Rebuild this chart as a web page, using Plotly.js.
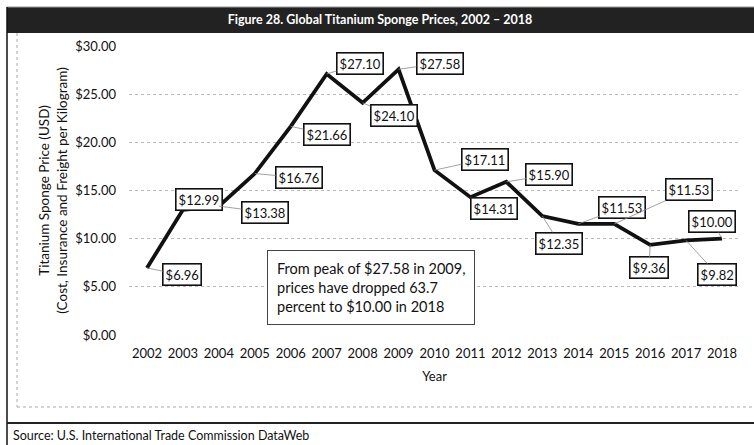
<!DOCTYPE html>
<html>
<head>
<meta charset="utf-8">
<script src="https://cdn.plot.ly/plotly-3.0.1.min.js"></script>
<style>html,body{margin:0;padding:0;background:#fff;}#chart{width:754px;height:445px;}</style>
</head>
<body>
<div id="chart"></div>
<script>
// ---- Data ----
const years = [2002, 2003, 2004, 2005, 2006, 2007, 2008, 2009, 2010, 2011, 2012, 2013, 2014, 2015, 2016, 2017, 2018];
const prices = [6.96, 12.99, 13.38, 16.76, 21.66, 27.10, 24.10, 27.58, 17.11, 14.31, 15.90, 12.35, 11.53, 11.53, 9.36, 9.82, 10.00];
const yTickVals = [0, 5, 10, 15, 20, 25, 30];
const yTickText = ['$0.00', '$5.00', '$10.00', '$15.00', '$20.00', '$25.00', '$30.00'];
const chartTitle = 'Figure 28. Global Titanium Sponge Prices, 2002 \u2013 2018';
const yTitle = 'Titanium Sponge Price (USD)<br>(Cost, Insurance and Freight per Kilogram)';
const xTitle = 'Year';
const noteText = 'From peak of $27.58 in 2009,<br>prices have dropped 63.7<br>percent to $10.00 in 2018';
const sourceText = 'Source: U.S. International Trade Commission DataWeb';

// ---- Label offsets (pixels, layout only) ----
const labelOffsets = [
  [35, 7], [16, -10], [46, 6], [44, 4], [36, 8], [33, -10], [31, 13], [41, -6],
  [50, -11], [24, 11], [43, -7], [17, 27], [44, -16], [75, -34], [-1, 23], [31, 34], [-10, -17]
];

const L = 129, R = 740, T = 46, B = 335, W = 754, H = 445;
const px = x => (x - L) / (R - L);
const py = y => (B - y) / (B - T);
const FONT = 'Lato, "Open Sans", sans-serif';

const annotations = years.map((yr, i) => ({
  x: yr, y: prices[i], xref: 'x', yref: 'y',
  text: '$' + prices[i].toFixed(2),
  showarrow: true, arrowhead: 0, arrowwidth: 0.8, arrowcolor: '#8a8a8a', standoff: 0,
  ax: labelOffsets[i][0], ay: labelOffsets[i][1],
  bgcolor: '#ffffff', bordercolor: '#111111', borderwidth: 1.6, borderpad: 2,
  font: {family: FONT, size: 13, color: '#111'}
}));

annotations.push({
  x: px(371), y: py(287), xref: 'paper', yref: 'paper', xanchor: 'center', yanchor: 'middle',
  text: noteText, showarrow: false, align: 'left',
  bgcolor: '#ffffff', bordercolor: '#444', borderwidth: 1, borderpad: 9,
  font: {family: FONT, size: 14.5, color: '#111'}
});
annotations.push({
  x: px(11), y: py(435), xref: 'paper', yref: 'paper', xanchor: 'left', yanchor: 'middle',
  text: sourceText, showarrow: false,
  font: {family: FONT, size: 12.5, color: '#111'}
});

const shapes = [
  // title bar
  {type: 'rect', xref: 'paper', yref: 'paper', x0: px(7), x1: px(760), y0: py(33), y1: py(7),
   fillcolor: '#222222', line: {width: 0}, layer: 'below'},
  {type: 'line', xref: 'paper', yref: 'paper', x0: px(7), x1: px(760), y0: py(7), y1: py(7),
   line: {color: '#999', width: 1}},
  // left solid border
  {type: 'line', xref: 'paper', yref: 'paper', x0: px(7), x1: px(7), y0: py(7), y1: py(450),
   line: {color: '#111', width: 1.5}},
  // inner dotted chart frame
  {type: 'line', xref: 'paper', yref: 'paper', x0: px(17), x1: px(17), y0: py(33), y1: py(407),
   line: {color: '#aaa', width: 1, dash: 'dot'}},
  {type: 'line', xref: 'paper', yref: 'paper', x0: px(17), x1: px(760), y0: py(407), y1: py(407),
   line: {color: '#aaa', width: 1, dash: 'dot'}},
  // solid separator above source
  {type: 'line', xref: 'paper', yref: 'paper', x0: px(7), x1: px(760), y0: py(423), y1: py(423),
   line: {color: '#222', width: 1.8}}
];

const trace = {
  x: years, y: prices, type: 'scatter', mode: 'lines',
  line: {color: '#111', width: 3.8},
  hoverinfo: 'skip', showlegend: false
};

const layout = {
  width: W, height: H,
  margin: {l: L, r: W - R, t: T, b: H - B, pad: 0},
  paper_bgcolor: '#ffffff', plot_bgcolor: '#ffffff',
  font: {family: FONT, color: '#111'},
  title: {
    text: '<b>' + chartTitle + '</b>',
    font: {family: FONT, size: 12.5, color: '#ffffff'},
    xref: 'container', yref: 'container', x: 0.504, y: 1 - 20 / H,
    xanchor: 'center', yanchor: 'middle'
  },
  xaxis: {
    range: [2001.5, 2018.5], tickmode: 'array', tickvals: years, ticktext: years.map(String),
    showgrid: false, zeroline: false, showline: false, ticks: '', ticklabelstandoff: 9,
    tickfont: {family: FONT, size: 13, color: '#111'},
    title: {text: xTitle, font: {family: FONT, size: 13, color: '#111'}, standoff: 11},
    fixedrange: true
  },
  yaxis: {
    range: [0, 30], tickmode: 'array', tickvals: yTickVals, ticktext: yTickText,
    showgrid: true, gridcolor: '#b8b8b8', griddash: 'dot', gridwidth: 1,
    zeroline: false, showline: false, ticks: '', ticklabelstandoff: 12,
    tickfont: {family: FONT, size: 13, color: '#111'},
    title: {text: yTitle, font: {family: FONT, size: 13.5, color: '#111'}, standoff: 4},
    fixedrange: true
  },
  annotations: annotations,
  shapes: shapes
};

Plotly.newPlot('chart', [trace], layout, {displayModeBar: false, staticPlot: true});
</script>
</body>
</html>
